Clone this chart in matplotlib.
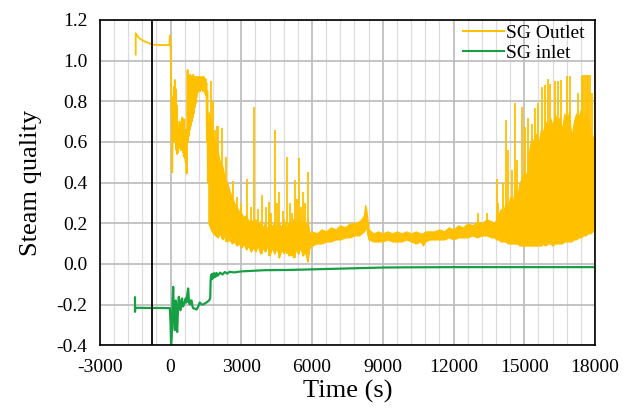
"""Steam quality at SG outlet / inlet vs time."""

import numpy as np
import matplotlib
matplotlib.use("Agg")
import matplotlib.pyplot as plt
from matplotlib.ticker import MultipleLocator

plt.rcParams["font.family"] = ["Liberation Serif", "DejaVu Serif"]
plt.rcParams["axes.unicode_minus"] = False

ORANGE = "#FFC000"
GREEN = "#16A043"

# SG outlet, early part (s, quality)
out_t = [-1480, -1480, -1400, -1300, -1200, -1100, -1000, -900, -800, -700,
         -400, -100, -50, -30, -10, 10, 40, 70, 100, 120, 140, 160, 180, 200,
         220, 240, 260, 280, 300, 320, 340, 360, 380, 400, 420, 440, 460, 480,
         500, 520, 540, 560, 580, 600, 620, 640, 660, 680, 700, 720, 740, 760,
         780, 800, 820, 840, 860, 880, 900, 920, 940, 960, 980, 1000, 1020,
         1040, 1060, 1080, 1100, 1120, 1140, 1160, 1180, 1200, 1220, 1240,
         1260, 1280, 1300, 1320, 1340, 1360, 1380, 1400, 1420, 1440, 1460,
         1480, 1500, 1520, 1540, 1560, 1580, 1600]
out_q = [1.03, 1.135, 1.12, 1.108, 1.10, 1.095, 1.09, 1.085, 1.08, 1.078,
         1.077, 1.077, 1.077, 1.125, 1.10, 1.00, 0.80, 0.45, 0.82, 0.62, 0.87,
         0.60, 0.905, 0.64, 0.86, 0.56, 0.78, 0.54, 0.68, 0.55, 0.66, 0.58,
         0.70, 0.57, 0.66, 0.56, 0.69, 0.58, 0.72, 0.55, 0.64, 0.53, 0.71,
         0.52, 0.66, 0.50, 0.58, 0.445, 0.63, 0.954, 0.60, 0.93, 0.63, 0.91,
         0.66, 0.93, 0.68, 0.92, 0.70, 0.91, 0.72, 0.93, 0.74, 0.92, 0.77,
         0.91, 0.79, 0.92, 0.82, 0.90, 0.84, 0.92, 0.85, 0.91, 0.86, 0.92,
         0.85, 0.90, 0.86, 0.92, 0.87, 0.91, 0.85, 0.92, 0.86, 0.90, 0.84,
         0.91, 0.83, 0.89, 0.60, 0.85, 0.40, 0.70]

# SG outlet, dense oscillation band: time, lower and upper envelope
band_t = [1600, 1700, 1800, 1900, 2000, 2100, 2200, 2300, 2400, 2500, 2600,
          2700, 2800, 2900, 3000, 3100, 3200, 3300, 3400, 3500, 3600, 3700,
          3800, 3900, 4000, 4100, 4200, 4300, 4400, 4500, 4600, 4700, 4800,
          4900, 5000, 5100, 5200, 5300, 5400, 5500, 5600, 5700, 5800, 5900,
          6000, 6200, 6400, 6600, 6800, 7000, 7200, 7400, 7600, 7800, 8000,
          8100, 8200, 8250, 8300, 8350, 8400, 8600, 8800, 9000, 9200, 9400,
          9600, 9800, 10000, 10200, 10400, 10600, 10700, 10800, 11000, 11200,
          11400, 11600, 11800, 12000, 12200, 12400, 12600, 12800, 13000,
          13200, 13400, 13600, 13750,
          13800, 13900, 14000, 14100, 14200, 14300, 14400, 14500, 14600,
          14700, 14800, 14900, 15000, 15100, 15200, 15300, 15400, 15500,
          15600, 15700, 15800, 15900, 16000, 16100, 16200, 16300, 16400,
          16500, 16600, 16700, 16800, 16900, 17000, 17100, 17200, 17300,
          17400, 17500, 17600, 17700, 17800, 17900, 18000]
band_lo = [0.20, 0.17, 0.15, 0.14, 0.13, 0.15, 0.12, 0.14, 0.11, 0.12, 0.10,
           0.11, 0.09, 0.10, 0.08, 0.10, 0.07, 0.09, 0.06, 0.08, 0.06, 0.09,
           0.05, 0.08, 0.06, 0.09, 0.04, 0.08, 0.05, 0.08, 0.03, 0.07, 0.05,
           0.08, 0.04, 0.07, 0.03, 0.07, 0.05, 0.08, 0.04, 0.06, 0.01, 0.08,
           0.09, 0.10, 0.10, 0.11, 0.11, 0.12, 0.12, 0.13, 0.13, 0.14, 0.14,
           0.15, 0.16, 0.17, 0.18, 0.14, 0.12, 0.11, 0.11, 0.11, 0.12, 0.11,
           0.11, 0.11, 0.12, 0.11, 0.10, 0.11, 0.09, 0.11, 0.12, 0.12,
           0.12, 0.12, 0.13, 0.12, 0.13, 0.13, 0.13, 0.14, 0.13,
           0.14, 0.14, 0.13, 0.13,
           0.12, 0.12, 0.11, 0.11, 0.11, 0.10, 0.10, 0.10, 0.10,
           0.10, 0.09, 0.09, 0.09, 0.09, 0.09, 0.09, 0.09, 0.09,
           0.09, 0.09, 0.10, 0.09, 0.10, 0.10, 0.09, 0.10, 0.10,
           0.10, 0.10, 0.11, 0.11, 0.11, 0.11, 0.12, 0.12, 0.13,
           0.13, 0.14, 0.14, 0.15, 0.15, 0.16, 0.17]
band_hi = [0.75, 0.70, 0.62, 0.60, 0.55, 0.50, 0.48, 0.42, 0.40, 0.36, 0.33,
           0.30, 0.28, 0.26, 0.25, 0.23, 0.24, 0.21, 0.22, 0.20, 0.22, 0.19,
           0.21, 0.18, 0.20, 0.17, 0.22, 0.18, 0.21, 0.17, 0.20, 0.18, 0.22,
           0.17, 0.20, 0.19, 0.22, 0.18, 0.23, 0.19, 0.21, 0.18, 0.22, 0.15,
           0.16, 0.15, 0.17, 0.16, 0.18, 0.17, 0.19, 0.18, 0.20, 0.20, 0.21,
           0.22, 0.24, 0.29, 0.27, 0.22, 0.17, 0.15, 0.16, 0.15, 0.16, 0.15,
           0.16, 0.15, 0.16, 0.15, 0.16, 0.15, 0.15, 0.16, 0.16, 0.16,
           0.17, 0.16, 0.18, 0.17, 0.19, 0.18, 0.20, 0.19, 0.21,
           0.20, 0.22, 0.21, 0.20,
           0.22, 0.24, 0.27, 0.25, 0.30, 0.27, 0.33, 0.30, 0.36,
           0.33, 0.40, 0.42, 0.45, 0.44, 0.55, 0.62, 0.60, 0.64,
           0.58, 0.66, 0.65, 0.70, 0.66, 0.72, 0.68, 0.74, 0.70,
           0.72, 0.66, 0.74, 0.70, 0.75, 0.62, 0.70, 0.74, 0.72,
           0.76, 0.70, 0.74, 0.72, 0.66, 0.62, 0.64]

# SG outlet, isolated spikes: time, foot, tip
spike_t = [1700, 1760, 1820, 1880, 1950, 2020, 2160, 2370, 2650, 2800, 3000,
           3220, 3400, 3530, 3700, 3880, 4050, 4180, 4280, 4420, 4500, 4600,
           4750, 4920, 5050, 5170, 5270, 5350, 5450, 5550, 5620, 5700, 5830,
           13050, 13400, 13830, 13900, 14080, 14220, 14320, 14460, 14600,
           14700, 14890, 15030, 15170, 15310, 15450, 15590, 15740, 15880,
           16020, 16090, 16300, 16440, 16580, 16800, 16940, 17290, 17430,
           17500, 17570, 17650, 17720, 17790, 17860, 17980]
spike_lo = [0.17, 0.16, 0.15, 0.14, 0.13, 0.13, 0.12, 0.11, 0.10, 0.09, 0.08,
            0.07, 0.06, 0.08, 0.09, 0.05, 0.06, 0.04, 0.06, 0.05, 0.08, 0.03,
            0.07, 0.05, 0.04, 0.04, 0.03, 0.07, 0.05, 0.08, 0.04, 0.06, 0.01,
            0.13, 0.14, 0.12, 0.12, 0.11, 0.11, 0.10, 0.10, 0.10,
            0.10, 0.09, 0.09, 0.09, 0.09, 0.09, 0.09, 0.09, 0.09,
            0.10, 0.10, 0.10, 0.10, 0.10, 0.11, 0.11, 0.13, 0.13,
            0.14, 0.14, 0.14, 0.15, 0.15, 0.15, 0.17]
spike_hi = [0.90, 0.68, 0.80, 0.66, 0.68, 0.68, 0.667, 0.527, 0.41, 0.33, 0.30,
            0.42, 0.28, 0.773, 0.27, 0.34, 0.28, 0.306, 0.25, 0.66, 0.30, 0.355,
            0.26, 0.527, 0.30, 0.25, 0.412, 0.32, 0.52, 0.28, 0.355, 0.30, 0.453,
            0.25, 0.25, 0.42, 0.30, 0.40, 0.71, 0.56, 0.46, 0.79,
            0.51, 0.77, 0.675, 0.72, 0.69, 0.765, 0.79, 0.87, 0.88,
            0.91, 0.885, 0.90, 0.90, 0.905, 0.925, 0.925, 0.84, 0.925,
            0.93, 0.93, 0.93, 0.93, 0.93, 0.84, 0.95]

# SG inlet
in_t = [-1510, -1510, -1500, -1000, -500, -30, 0, 20, 50, 80, 110, 140, 180,
        220, 250, 280, 320, 350, 390, 420, 460, 490, 530, 560, 600, 640, 670,
        710, 746, 780, 820, 860, 890, 930, 960, 1030, 1100, 1170, 1240, 1310,
        1380, 1450, 1520, 1580, 1630, 1680, 1700, 1720, 1740, 1760, 1780,
        1800, 1830, 1860, 1900, 1950, 2000, 2100, 2200, 2300, 2400, 2500,
        2700, 3000, 3500, 4000, 5000, 6000, 7000, 8000, 9000, 10000, 12000,
        14000, 16000, 18000]
in_q = [-0.165, -0.236, -0.216, -0.217, -0.217, -0.218, -0.30, -0.40, -0.36,
        -0.20, -0.113, -0.25, -0.326, -0.18, -0.30, -0.335, -0.20, -0.162,
        -0.21, -0.228, -0.18, -0.17, -0.21, -0.20, -0.19, -0.17, -0.19, -0.15,
        -0.121, -0.19, -0.20, -0.18, -0.18, -0.21, -0.219, -0.22, -0.225,
        -0.21, -0.19, -0.20, -0.20, -0.195, -0.19, -0.185, -0.18, -0.17,
        -0.08, -0.055, -0.075, -0.05, -0.072, -0.048, -0.068, -0.046, -0.064,
        -0.045, -0.058, -0.043, -0.052, -0.040, -0.048, -0.039, -0.042,
        -0.037, -0.034, -0.031, -0.030, -0.027, -0.024, -0.021, -0.018,
        -0.017, -0.016, -0.016, -0.016, -0.016]

marker_t = -770  # vertical reference line

fig = plt.figure(figsize=(6.36, 4.08), dpi=100)
ax = fig.add_axes([0.157, 0.154, 0.7785, 0.797])

ax.plot(out_t, out_q, color=ORANGE, lw=1.3, label="SG Outlet")
ax.fill_between(band_t, band_lo, band_hi, color=ORANGE, lw=0.8)
ax.vlines(spike_t, spike_lo, spike_hi, color=ORANGE, lw=1.3)
ax.plot(in_t, in_q, color=GREEN, lw=1.6, label="SG inlet")
ax.axvline(marker_t, color="black", lw=1.3)

ax.set_xlim(-3000, 18000)
ax.set_ylim(-0.4, 1.2)
ax.xaxis.set_major_locator(MultipleLocator(3000))
ax.xaxis.set_minor_locator(MultipleLocator(600))
ax.yaxis.set_major_locator(MultipleLocator(0.2))
ax.yaxis.set_major_formatter(matplotlib.ticker.FormatStrFormatter("%.1f"))
ax.set_axisbelow(True)
ax.grid(axis="x", which="major", color="#bfbfbf", lw=1.3)
ax.grid(axis="x", which="minor", color="#dcdcdc", lw=0.9)
ax.grid(axis="y", which="major", color="#bfbfbf", lw=1.3)
ax.tick_params(which="both", length=0, labelsize=14)
ax.tick_params(axis="y", pad=9)
ax.tick_params(axis="x", pad=10)
for sp in ax.spines.values():
    sp.set_color("black")
    sp.set_linewidth(1.2)

ax.set_xlabel("Time (s)", fontsize=19, labelpad=3)
ax.set_ylabel("Steam quality", fontsize=19, labelpad=10)

leg = ax.legend(loc="upper right", bbox_to_anchor=(0.986, 0.998),
                fontsize=14, frameon=False,
                handlelength=2.1, handletextpad=0.1, labelspacing=0.12,
                borderaxespad=0.1, borderpad=0.1)
for line in leg.get_lines():
    line.set_linewidth(1.5)

fig.savefig("out.png", dpi=100)
